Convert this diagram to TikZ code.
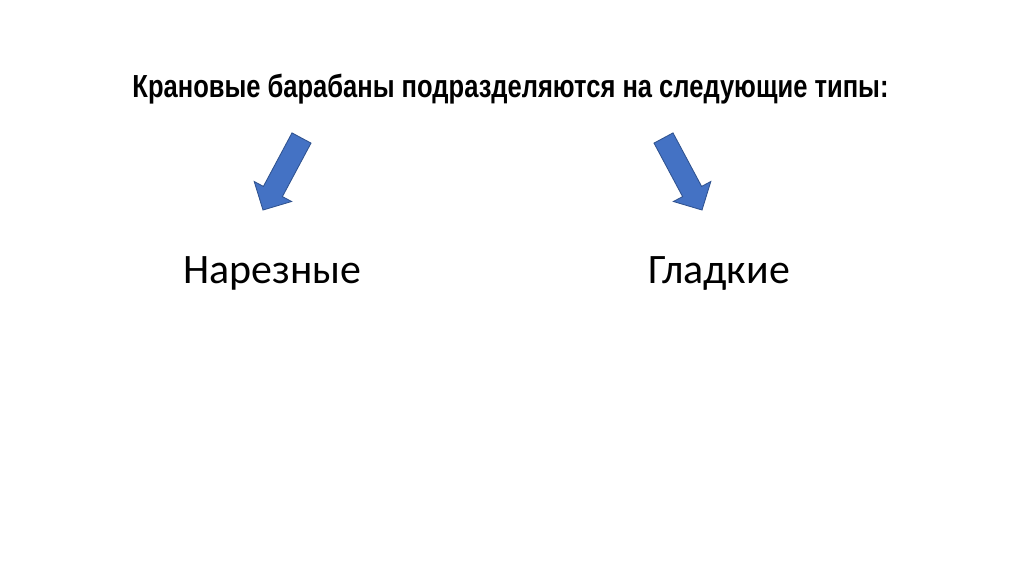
\documentclass[tikz,border=0pt]{standalone}
\usepackage{fontspec}
\setmainfont{Carlito}
\newfontfamily\titlefont[FakeStretch=0.8]{Liberation Sans}
\usepackage{tikz}
\definecolor{arrowfill}{HTML}{4472C4}
\definecolor{arrowline}{HTML}{2F528F}

\begin{document}
\begin{tikzpicture}
  [x=0.025cm,y=-0.025cm,
   typ/.style={anchor=base,inner sep=0pt,font=\fontsize{29.8}{34}\selectfont},
   blockarrow/.style={fill=arrowfill,draw=arrowline,line width=0.6pt,line join=miter}]

  \useasboundingbox[fill=white] (0,0) rectangle (1024,574);

  \node[anchor=base,inner sep=0pt,font=\titlefont\bfseries\fontsize{22.7}{27}\selectfont] (title) at (510.5,97)
    {Крановые барабаны подразделяются на следующие типы:};

  \node[typ] (nar) at (272.5,283) {Нарезные};
  \node[typ] (glad) at (719,283) {Гладкие};

  % left arrow
  \draw[blockarrow] (292,132.9) -- (263.4,186.4) -- (254.2,181.5) -- (263,210)
    -- (291.6,201.5) -- (282.4,196.6) -- (311,143.1) -- cycle;
  % right arrow
  \draw[blockarrow] (673,132.9) -- (701.6,186.4) -- (710.8,181.5) -- (702,210)
    -- (673.4,201.5) -- (682.6,196.6) -- (654,143.1) -- cycle;
\end{tikzpicture}
\end{document}
